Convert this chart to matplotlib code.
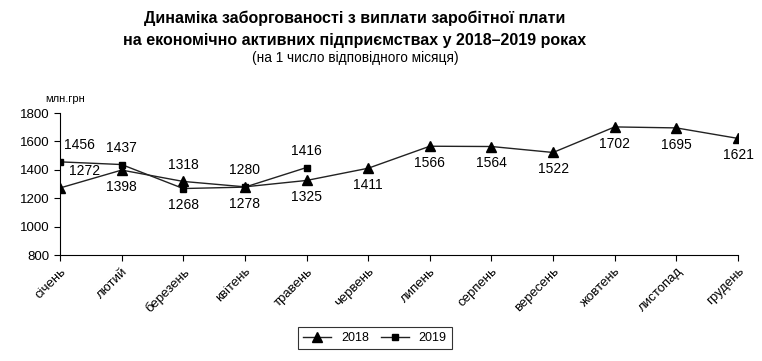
import matplotlib
matplotlib.use("Agg")
import matplotlib.pyplot as plt

months = ["січень", "лютий", "березень", "квітень", "травень", "червень",
          "липень", "серпень", "вересень", "жовтень", "листопад", "грудень"]
v2018 = [1272, 1398, 1318, 1280, 1325, 1411, 1566, 1564, 1522, 1702, 1695, 1621]
v2019 = [1456, 1437, 1268, 1278, 1416]
# label placement: +1 above, -1 below
pos2018 = [1, -1, 1, 1, -1, -1, -1, -1, -1, -1, -1, -1]
pos2019 = [1, 1, -1, -1, 1]

plt.rcParams['font.family'] = ['Liberation Sans', 'DejaVu Sans']

fig = plt.figure(figsize=(7.62, 3.61), dpi=100)
ax = fig.add_axes([60/762, 1-255/361, (738-60)/762, (255-113)/361])

x18 = list(range(len(v2018)))
x19 = list(range(len(v2019)))
ax.plot(x18, v2018, color='#222222', lw=1.0, marker='^', ms=6.5, mfc='black', mec='black', label='2018')
ax.plot(x19, v2019, color='#222222', lw=1.0, marker='s', ms=5, mfc='black', mec='black', label='2019')

for i, (v, p) in enumerate(zip(v2018, pos2018)):
    dx = 18 if i == 0 else 0
    ax.annotate(str(v), (i, v), xytext=(dx, 7 if p > 0 else -7), textcoords='offset points',
                ha='center', va='bottom' if p > 0 else 'top', fontsize=10)
for i, (v, p) in enumerate(zip(v2019, pos2019)):
    dx = 14 if i == 0 else 0
    ax.annotate(str(v), (i, v), xytext=(dx, 7 if p > 0 else -7), textcoords='offset points',
                ha='center', va='bottom' if p > 0 else 'top', fontsize=10)

ax.set_xlim(0, 11)
ax.set_ylim(800, 1800)
ax.set_yticks(range(800, 1801, 200))
ax.set_xticks(range(12))
ax.set_xticklabels(months, rotation=45, ha='right', va='top', rotation_mode='anchor', fontsize=9.5)
ax.tick_params(axis='y', labelsize=9.5, length=4, direction='out')
ax.tick_params(axis='x', length=4, direction='out')
ax.spines['top'].set_visible(False)
ax.spines['right'].set_visible(False)

fig.text(355/762, 1-18/361, "Динаміка заборгованості з виплати заробітної плати", ha='center', va='center',
         fontsize=11.5, fontweight='bold')
fig.text(355/762, 1-40/361, "на економічно активних підприємствах у 2018–2019 роках", ha='center', va='center',
         fontsize=11.5, fontweight='bold')
fig.text(355/762, 1-58/361, "(на 1 число відповідного місяця)", ha='center', va='center', fontsize=9.8)
fig.text(45/762, 1-99/361, "млн.грн", ha='left', va='center', fontsize=8)

leg = fig.legend(loc='center', bbox_to_anchor=(375/762, 1-338/361), ncol=2, frameon=True,
                 fancybox=False, edgecolor='black', fontsize=9, handlelength=2.2, columnspacing=1.0)
leg.get_frame().set_linewidth(0.8)

fig.savefig("out.png", dpi=100)
